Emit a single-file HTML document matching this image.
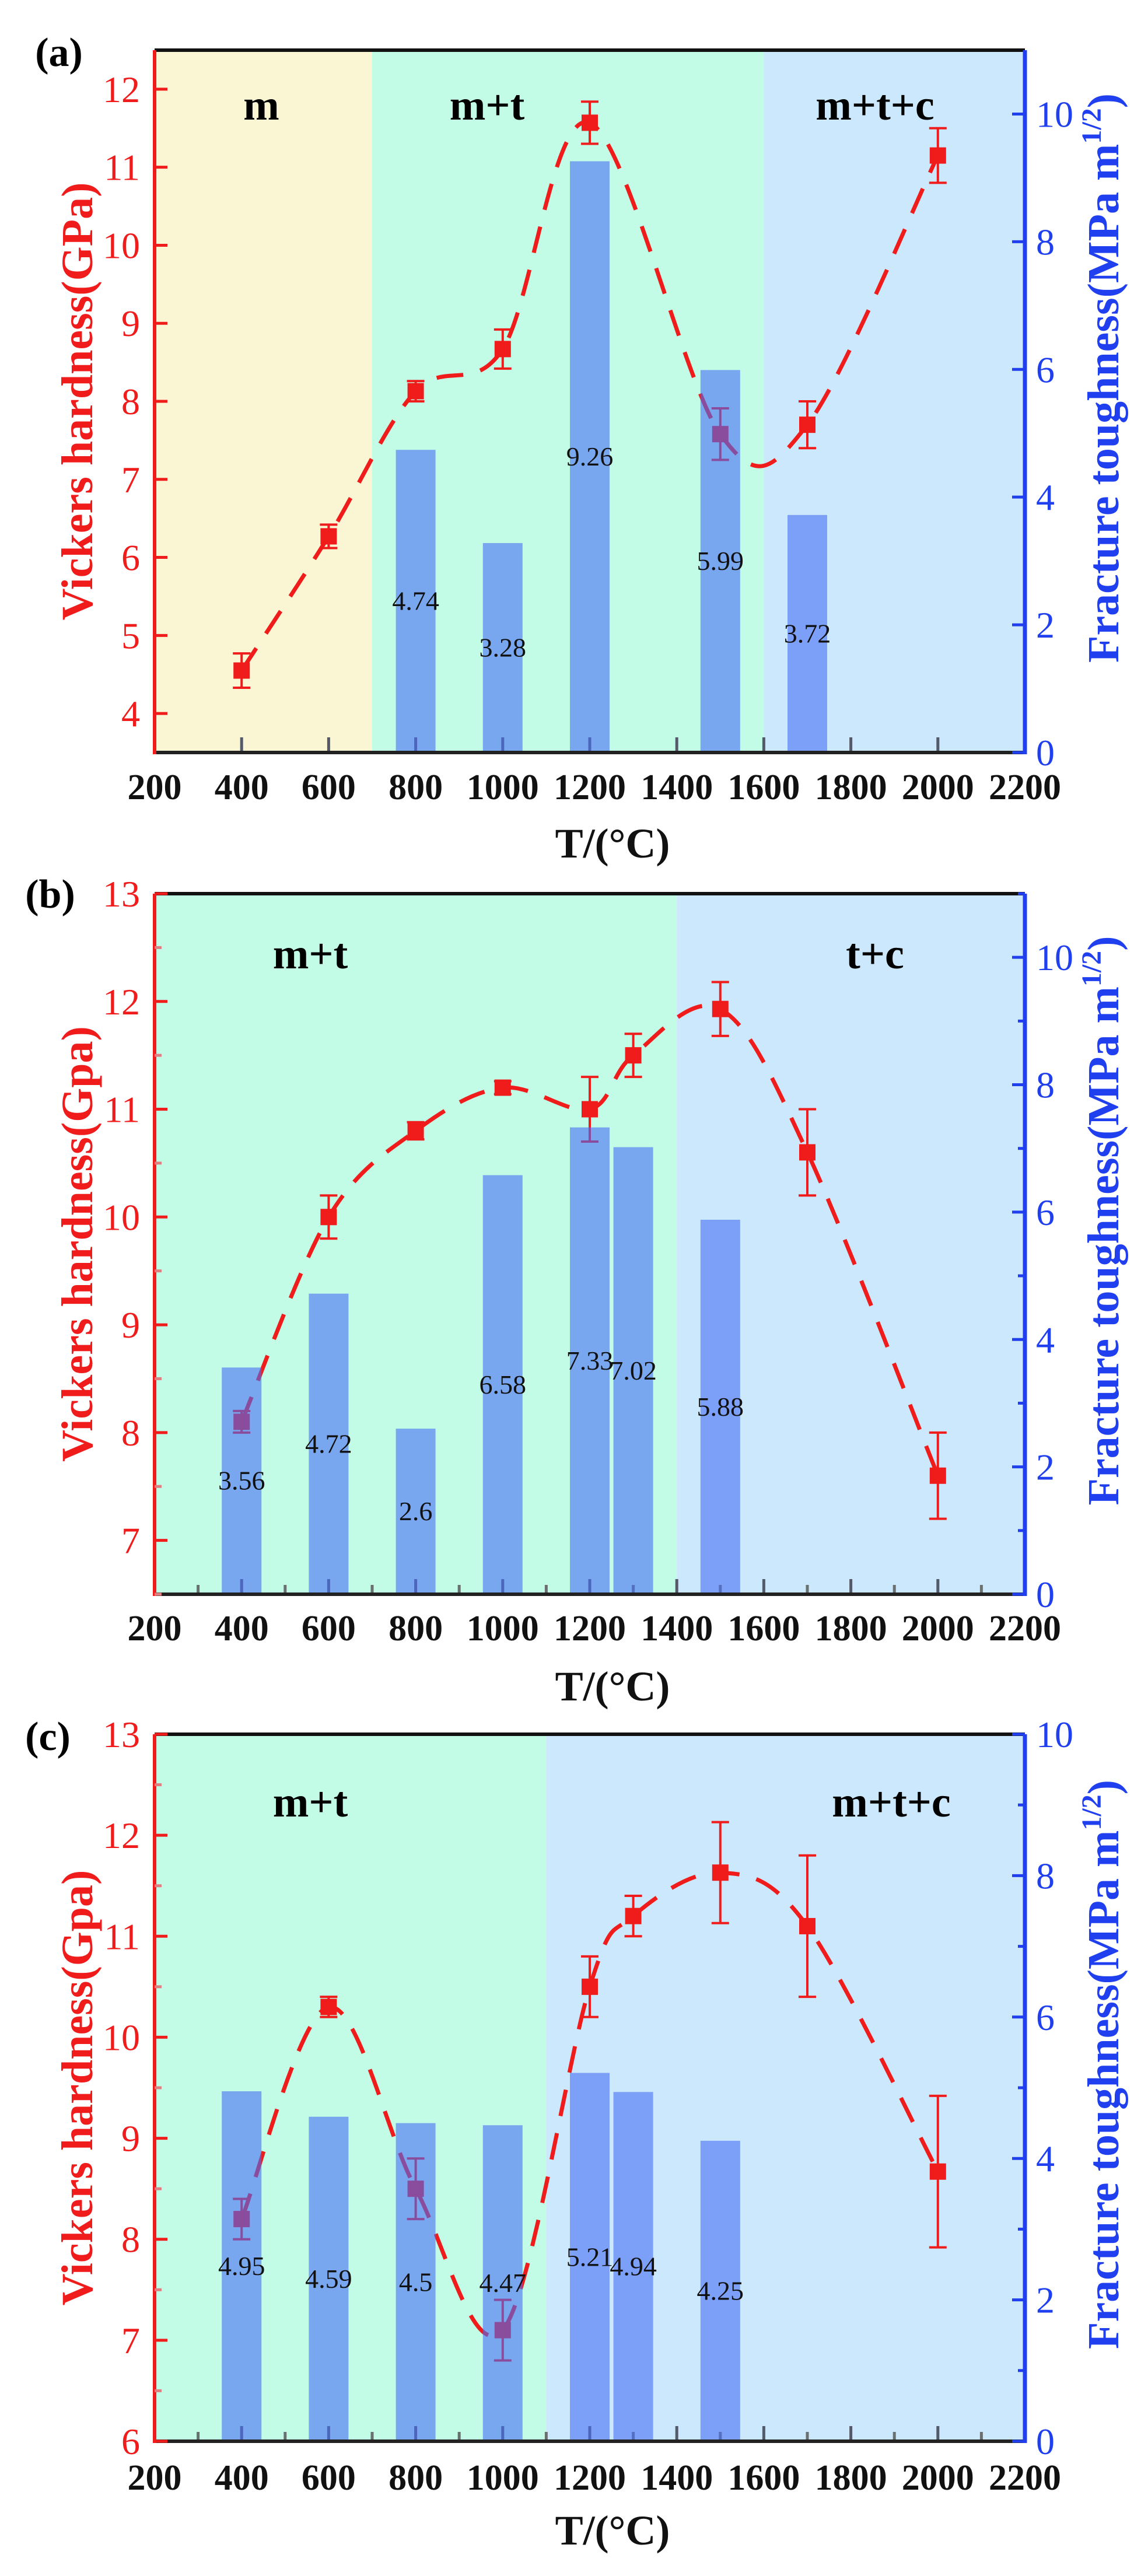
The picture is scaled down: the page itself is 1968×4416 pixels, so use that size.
<!DOCTYPE html>
<html><head><meta charset="utf-8"><style>
html,body{margin:0;padding:0;background:#fff;}
svg{display:block;font-family:"Liberation Serif",serif;}
</style></head><body>
<svg id="chart" width="1968" height="4416" viewBox="0 0 1968 4416" xmlns="http://www.w3.org/2000/svg"></svg>
<script>
// ---- data ----
const aTemps=[400,600,800,1000,1200,1500,1700,2000];
const aHard=[4.55,6.27,8.13,8.67,11.57,7.58,7.7,11.15];
const aErr=[0.22,0.15,0.13,0.25,0.27,0.33,0.3,0.35];
const aBarTemps=[800,1000,1200,1500,1700];
const aTough=[4.74,3.28,9.26,5.99,3.72];
const aBarLabels=["4.74","3.28","9.26","5.99","3.72"];

const bTemps=[400,600,800,1000,1200,1300,1500,1700,2000];
const bHard=[8.1,10.0,10.8,11.2,11.0,11.5,11.93,10.6,7.6];
const bErr=[0.1,0.2,0.08,0.06,0.3,0.2,0.25,0.4,0.4];
const bBarTemps=[400,600,800,1000,1200,1300,1500];
const bTough=[3.56,4.72,2.6,6.58,7.33,7.02,5.88];
const bBarLabels=["3.56","4.72","2.6","6.58","7.33","7.02","5.88"];

const cTemps=[400,600,800,1000,1200,1300,1500,1700,2000];
const cHard=[8.2,10.3,8.5,7.1,10.5,11.2,11.63,11.1,8.67];
const cErr=[0.2,0.1,0.3,0.3,0.3,0.2,0.5,0.7,0.75];
const cBarTemps=[400,600,800,1000,1200,1300,1500];
const cTough=[4.95,4.59,4.5,4.47,5.21,4.94,4.25];
const cBarLabels=["4.95","4.59","4.5","4.47","5.21","4.94","4.25"];

const xTicks=[200,400,600,800,1000,1200,1400,1600,1800,2000,2200];

const svg=document.getElementById('chart');
const NS='http://www.w3.org/2000/svg';
function el(tag,attrs,parent){const e=document.createElementNS(NS,tag);for(const k in attrs)e.setAttribute(k,attrs[k]);(parent||svg).appendChild(e);return e;}
const X0=265,X1=1757;
function xs(v){return X0+(v-200)/2000*(X1-X0);}
const RED='#f01c1c',BLUE='#2040f0';

function panel(p){
  const g=el('g',{});
  
  
  const ys=v=>p.bot-(v-p.yMin)/(p.yMax-p.yMin)*(p.bot-p.top);
  const rs=v=>p.bot-v/p.rMax*(p.bot-p.top);
  // regions
  p.regions.forEach(r=>{
    const re=el('rect',{x:xs(r[0]),y:p.top,width:xs(r[1])-xs(r[0]),height:p.bot-p.top,fill:r[2]},g);
    
    
  });
  // phase labels
  p.phases.forEach(t=>{
    const te=el('text',{x:t[1],y:t[2],'font-size':74,'font-weight':'bold','text-anchor':'middle',fill:'#000'},g);
    te.textContent=t[0];
    
    
  });
  // x ticks at bottom
  for(let v=300;v<2200;v+=100){
    const major=v%200===0;
    if(!major && !p.minor) continue;
    const t=el('line',{x1:xs(v),x2:xs(v),y1:p.bot,y2:p.bot-(major?26:16),stroke:major?'#555a6a':'#6a7070','stroke-width':5},g);
    
    
  }
  // curve
  const pts=p.temps.map((t,i)=>[xs(t),ys(p.hard[i])]);
  let d='M'+pts[0][0]+','+pts[0][1];
  for(let i=0;i<pts.length-1;i++){
    const p0=pts[i-1]||pts[i],p1=pts[i],p2=pts[i+1],p3=pts[i+2]||p2;
    const c1=[p1[0]+(p2[0]-p0[0])/6,p1[1]+(p2[1]-p0[1])/6];
    const c2=[p2[0]-(p3[0]-p1[0])/6,p2[1]-(p3[1]-p1[1])/6];
    d+=' C'+c1+' '+c2+' '+p2;
  }
  const cv=el('path',{d:d,fill:'none',stroke:RED,'stroke-width':7,'stroke-dasharray':'46 30'},g);
  
  
  // points and error bars
  pts.forEach((q,i)=>{
    const e=p.err[i];const y1=ys(p.hard[i]+e),y2=ys(p.hard[i]-e);
    const eb=el('path',{d:`M${q[0]},${y1}V${y2}M${q[0]-15},${y1}h30M${q[0]-15},${y2}h30`,stroke:RED,'stroke-width':4,fill:'none'},g);
    
    
    const m=el('rect',{x:q[0]-14,y:q[1]-14,width:28,height:28,fill:RED},g);
    
    
  });
  // bars
  const bw=68;
  p.barT.forEach((t,i)=>{
    const y=rs(p.tough[i]);
    const b=el('rect',{x:xs(t)-bw/2,y:y,width:bw,height:p.bot-y,fill:'rgba(70,110,245,0.6)'},g);
    
    
  });
  p.barT.forEach((t,i)=>{
    const y=rs(p.tough[i]);
    const tx=el('text',{x:xs(t),y:(y+p.bot)/2+15,'font-size':46,'text-anchor':'middle',fill:'#111'},g);
    tx.textContent=p.barLab[i];
    
    
  });
  // frame
  const tl=el('line',{x1:X0,x2:X1,y1:p.top,y2:p.top,stroke:'#111','stroke-width':6},g);
  
  const bl=el('line',{x1:X0,x2:X1,y1:p.bot,y2:p.bot,stroke:'#222','stroke-width':6},g);
  
  const ll=el('line',{x1:X0,x2:X0,y1:p.top,y2:p.bot+3,stroke:RED,'stroke-width':6},g);
  
  const rl=el('line',{x1:X1,x2:X1,y1:p.top,y2:p.bot+3,stroke:BLUE,'stroke-width':7},g);
  
  // left ticks
  for(let v=Math.ceil(p.yMin*2)/2;v<=p.yMax+1e-6;v+=0.5){
    const major=Math.abs(v-Math.round(v))<1e-6;
    if(!major && !p.minor) continue;
    const tk=el('line',{x1:X0,x2:X0+(major?22:12),y1:ys(v),y2:ys(v),stroke:major?RED:'#e08080','stroke-width':5},g);
    
    if(major){
      const t=el('text',{x:240,y:ys(v)+22,'font-size':64,'text-anchor':'end',fill:RED},g);
      t.textContent=Math.round(v);
      
    }
  }
  // right ticks
  for(let v=0;v<=p.rMax+1e-6;v+=1){
    const major=v%2===0;
    if(!major && !p.minor) continue;
    const tk=el('line',{x1:X1,x2:X1-(major?22:12),y1:rs(v),y2:rs(v),stroke:BLUE,'stroke-width':5},g);
    
    if(major){
      const t=el('text',{x:1776,y:rs(v)+22,'font-size':64,fill:BLUE},g);
      t.textContent=v;
      
    }
  }
  // x labels
  xTicks.forEach(v=>{
    const t=el('text',{x:xs(v),y:p.xlabY,'font-size':62,'font-weight':'bold','text-anchor':'middle',fill:'#111'},g);
    t.textContent=v;
    
  });
  const xt=el('text',{x:1050,y:p.xtitleY,'font-size':72,'font-weight':'bold','text-anchor':'middle',fill:'#111'},g);
  xt.textContent='T/(°C)';
  
  const cy=(p.top+p.bot)/2;
  const lt=el('text',{x:0,y:0,'font-size':76,'font-weight':'bold','text-anchor':'middle',fill:RED,transform:`translate(158,${cy+p.ltOff}) rotate(-90)`},g);
  lt.textContent=p.ltitle;
  
  const rt=el('text',{x:0,y:0,'font-size':76,'font-weight':'bold','text-anchor':'middle',fill:BLUE,transform:`translate(1917,${cy-40}) rotate(-90)`},g);
  rt.innerHTML='Fracture toughness(MPa m<tspan font-size="48" dy="-30">1/2</tspan><tspan dy="30">)</tspan>';
  
  const pl=el('text',{x:p.plx,y:p.ply,'font-size':70,'font-weight':'bold','text-anchor':'middle',fill:'#000'},g);
  pl.textContent=p.plabel;
  
}
const YEL='#faf6d4',MINT='#c2fce6',LBLUE='#cce8fc';
panel({id:'a',top:86,bot:1290,yMin:3.5,yMax:12.5,rMax:11,minor:false,temps:aTemps,hard:aHard,err:aErr,barT:aBarTemps,tough:aTough,barLab:aBarLabels,
  regions:[[200,700,YEL],[700,1600,MINT],[1600,2200,LBLUE]],phases:[['m',448,205],['m+t',835,205],['m+t+c',1500,205]],
  xlabY:1370,xtitleY:1470,ltitle:'Vickers hardness(GPa)',ltOff:0,plabel:'(a)',plx:101,ply:113});
panel({id:'b',top:1532,bot:2733,yMin:6.5,yMax:13,rMax:11,minor:true,temps:bTemps,hard:bHard,err:bErr,barT:bBarTemps,tough:bTough,barLab:bBarLabels,
  regions:[[200,1400,MINT],[1400,2200,LBLUE]],phases:[['m+t',532,1660],['t+c',1500,1660]],
  xlabY:2812,xtitleY:2915,ltitle:'Vickers hardness(Gpa)',ltOff:0,plabel:'(b)',plx:86,ply:1556});
panel({id:'c',top:2973,bot:4185,yMin:6,yMax:13,rMax:10,minor:true,temps:cTemps,hard:cHard,err:cErr,barT:cBarTemps,tough:cTough,barLab:cBarLabels,
  regions:[[200,1100,MINT],[1100,2200,LBLUE]],phases:[['m+t',532,3114],['m+t+c',1528,3114]],
  xlabY:4268,xtitleY:4362,ltitle:'Vickers hardness(Gpa)',ltOff:0,plabel:'(c)',plx:82,ply:3000});
</script>
</body></html>
